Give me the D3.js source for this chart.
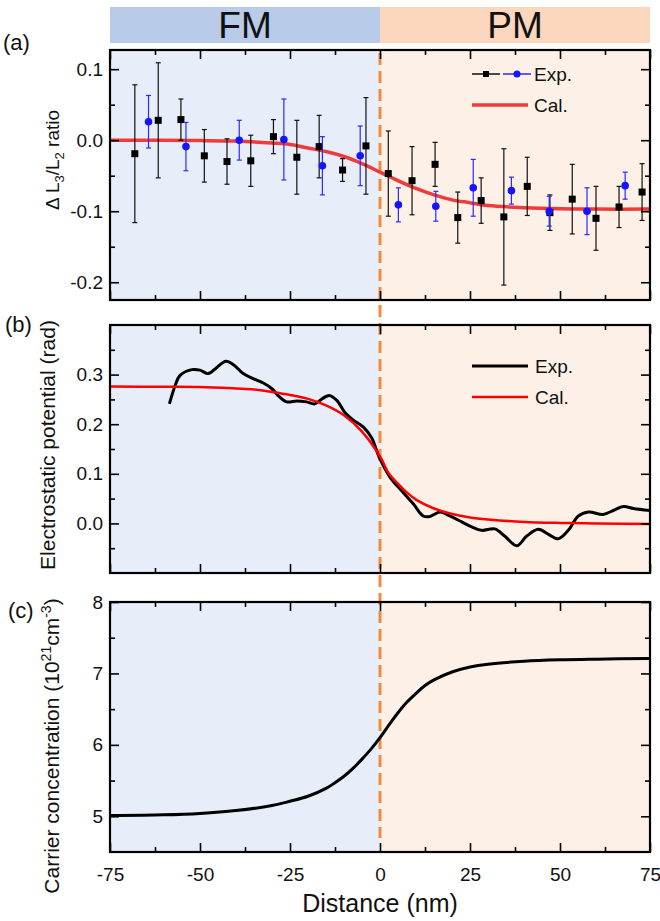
<!DOCTYPE html>
<html>
<head>
<meta charset="utf-8">
<script src="https://cdn.jsdelivr.net/npm/d3@7"></script>
<style>
    body { margin: 0; background: #fff; }
    svg { display: block; }
    text { font-family: "Liberation Sans", Arial, sans-serif; fill: #111; }
</style>
</head>
<body>
<svg id="chart"></svg>
<script>
// ---- data ----
const distTicks = [-75, -50, -25, 0, 25, 50, 75]
const distMinor = [-62.5, -37.5, -12.5, 12.5, 37.5, 62.5]
const regions = ['FM', 'PM']

// (a) L3/L2 ratio, black squares
const blackX = [-68.1, -61.6, -55.3, -48.8, -42.5, -35.9, -29.6, -23.1, -16.9, -10.4, -3.9, 2.3, 8.9, 15.3, 21.6, 28.1, 34.4, 40.9, 47.2, 53.4, 60.0, 66.4, 72.8]
const blackVal = [-0.019, 0.028, 0.029, -0.022, -0.030, -0.029, 0.005, -0.024, -0.009, -0.042, -0.008, -0.047, -0.057, -0.034, -0.109, -0.085, -0.108, -0.065, -0.102, -0.083, -0.110, -0.094, -0.073]
const blackErr = [0.097, 0.081, 0.029, 0.037, 0.032, 0.036, 0.024, 0.052, 0.044, 0.016, 0.068, 0.060, 0.048, 0.031, 0.036, 0.032, 0.096, 0.041, 0.025, 0.049, 0.045, 0.029, 0.040]
// (a) blue circles
const blueX = [-64.3, -53.9, -39.1, -26.7, -16.0, -5.5, 5.1, 15.5, 25.9, 36.5, 47.0, 57.5, 68.1]
const blueVal = [0.026, -0.009, 0.000, 0.001, -0.036, -0.022, -0.091, -0.093, -0.067, -0.071, -0.100, -0.100, -0.064]
const blueErr = [0.037, 0.034, 0.028, 0.057, 0.041, 0.042, 0.024, 0.021, 0.040, 0.019, 0.021, 0.033, 0.019]
// (a) calculated
const calAX = [-75, -50, -40, -30, -25, -20, -15, -10, -5, 0, 5, 10, 15, 20, 25, 30, 40, 50, 60, 75]
const calAY = [0.000, -0.0005, -0.0013, -0.004, -0.006, -0.011, -0.016, -0.023, -0.033, -0.045, -0.057, -0.068, -0.077, -0.084, -0.088, -0.092, -0.095, -0.0965, -0.097, -0.097]

// (b) electrostatic potential, experiment
const potX = [-58.5, -56.9, -55.6, -52.3, -50, -47.7, -45.4, -42.8, -40.7, -38, -35.2, -32.4, -30.1, -28.2, -25.9, -23.1, -20.4, -18.1, -15.9, -14.1, -12.0, -9.7, -7.4, -4.6, -2.3, -0.2, 2.8, 6.5, 9.3, 12.0, 13.9, 16.7, 19.4, 22.7, 25.5, 28.2, 31.9, 34.7, 38.0, 40.7, 44.0, 46.8, 49.5, 52.3, 55.1, 57.9, 62.0, 64.8, 67.6, 70.4, 75]
const potY = [0.241, 0.278, 0.298, 0.310, 0.309, 0.302, 0.314, 0.327, 0.320, 0.302, 0.292, 0.283, 0.272, 0.257, 0.245, 0.247, 0.245, 0.241, 0.252, 0.258, 0.248, 0.223, 0.208, 0.194, 0.172, 0.133, 0.093, 0.062, 0.039, 0.015, 0.014, 0.023, 0.015, 0.003, -0.007, -0.014, -0.011, -0.026, -0.045, -0.026, -0.012, -0.022, -0.031, -0.014, 0.015, 0.023, 0.018, 0.026, 0.034, 0.030, 0.026]
// (b) calculated
const calBX = [-75, -60, -50, -40, -35, -30, -25, -20, -15, -10, -5, 0, 2.5, 5, 7.5, 10, 15, 20, 25, 30, 40, 50, 60, 75]
const calBY = [0.276, 0.2755, 0.275, 0.272, 0.270, 0.265, 0.259, 0.251, 0.238, 0.218, 0.185, 0.135, 0.100, 0.080, 0.062, 0.048, 0.030, 0.019, 0.012, 0.008, 0.003, 0.001, 0.000, -0.001]

// (c) carrier concentration
const carrierX = [-75, -60, -50, -40, -30, -25, -20, -15, -12.5, -10, -7.5, -5, -2.5, 0, 2.5, 5, 7.5, 10, 12.5, 15, 20, 25, 30, 40, 50, 60, 75]
const carrierY = [5.01, 5.02, 5.04, 5.08, 5.15, 5.21, 5.28, 5.39, 5.47, 5.56, 5.67, 5.80, 5.94, 6.10, 6.28, 6.45, 6.60, 6.72, 6.83, 6.91, 7.02, 7.09, 7.13, 7.17, 7.19, 7.20, 7.21]

// ---- drawing ----
const width = 660
const height = 921
const fmBg = '#e7eef9'
const pmBg = '#fdf0e6'

const svg = d3.select('#chart').attr('width', width).attr('height', height)

const x = d3.scaleLinear().domain([-75, 75]).range([110, 650])

const bgLayer = svg.append('g')
const dashLayer = svg.append('g')
const dataLayer = svg.append('g')
const axisLayer = svg.append('g')

// banner
const bannerColor = d3.scaleOrdinal().domain(regions).range(['#b8cbe9', '#fcd6bd'])
const bannerX = d3.scaleOrdinal().domain(regions).range([[-75, 0], [0, 75]])
regions.forEach(function (r) {
    const [a, b] = bannerX(r)
    bgLayer.append('rect')
        .attr('x', x(a)).attr('y', 7)
        .attr('width', x(b) - x(a)).attr('height', 36)
        .attr('fill', bannerColor(r))
    bgLayer.append('text')
        .attr('x', (x(a) + x(b)) / 2).attr('y', 38)
        .attr('text-anchor', 'middle')
        .style('font-size', '37px')
        .text(r)
})

function makePanel(top, bottom, domain, major, minor, fmt, showX) {
    const y = d3.scaleLinear().domain(domain).range([bottom, top])

    bgLayer.append('rect')
        .attr('x', x(-75)).attr('y', top)
        .attr('width', x(0) - x(-75)).attr('height', bottom - top)
        .attr('fill', fmBg)
    bgLayer.append('rect')
        .attr('x', x(0)).attr('y', top)
        .attr('width', x(75) - x(0)).attr('height', bottom - top)
        .attr('fill', pmBg)

    const axes = [
        [d3.axisLeft(y).tickValues(major).tickSize(-9).tickPadding(7).tickFormat(fmt), 'translate(110,0)'],
        [d3.axisLeft(y).tickValues(minor).tickSize(-5).tickFormat(''), 'translate(110,0)'],
        [d3.axisRight(y).tickValues(major).tickSize(-9).tickFormat(''), 'translate(650,0)'],
        [d3.axisRight(y).tickValues(minor).tickSize(-5).tickFormat(''), 'translate(650,0)'],
        [d3.axisTop(x).tickValues(distTicks).tickSize(-9).tickFormat(''), 'translate(0,' + top + ')'],
        [d3.axisTop(x).tickValues(distMinor).tickSize(-5).tickFormat(''), 'translate(0,' + top + ')'],
        [d3.axisBottom(x).tickValues(distTicks).tickSize(-9).tickPadding(16)
            .tickFormat(showX ? (d) => String(d) : ''), 'translate(0,' + bottom + ')'],
        [d3.axisBottom(x).tickValues(distMinor).tickSize(-5).tickFormat(''), 'translate(0,' + bottom + ')'],
    ]
    axes.forEach(function ([ax, tr]) {
        const g = axisLayer.append('g')
            .attr('transform', tr)
            .call(ax)
            .attr('font-size', 19)
            .attr('font-family', '"Liberation Sans", Arial, sans-serif')
        g.select('.domain').remove()
        g.selectAll('line').attr('stroke', '#000').attr('stroke-width', 1.6)
    })

    axisLayer.append('rect')
        .attr('x', 110).attr('y', top)
        .attr('width', 540).attr('height', bottom - top)
        .attr('fill', 'none')
        .attr('stroke', '#000')
        .attr('stroke-width', 2.2)

    return y
}

const fmt1 = (d) => d.toFixed(1)
const yA = makePanel(50, 300, [-0.225, 0.127], [-0.2, -0.1, 0, 0.1], [-0.15, -0.05, 0.05], fmt1, false)
const yB = makePanel(325, 573, [-0.1, 0.4], [0, 0.1, 0.2, 0.3], [-0.05, 0.05, 0.15, 0.25, 0.35], fmt1, false)
const yC = makePanel(602, 852, [4.5, 8], [5, 6, 7, 8], [5.5, 6.5, 7.5], (d) => String(d), true)

// dashed boundary line
dashLayer.append('line')
    .attr('x1', x(0)).attr('x2', x(0))
    .attr('y1', 53).attr('y2', 838)
    .attr('stroke', '#f58a3c')
    .attr('stroke-width', 3)
    .attr('stroke-dasharray', '12,6')

// (a) calculated curve
const lineGen = (y) => d3.line()
    .x((d) => x(d[0]))
    .y((d) => y(d[1]))
    .curve(d3.curveCatmullRom.alpha(0.5))

dataLayer.append('path')
    .datum(d3.zip(calAX, calAY))
    .attr('d', lineGen(yA))
    .attr('fill', 'none')
    .attr('stroke', '#ef3b3b')
    .attr('stroke-width', 3.5)

function errorBars(xs, vals, errs, color) {
    const data = xs.map((d, i) => ({ x: d, v: vals[i], e: errs[i] }))
    const g = dataLayer.append('g').attr('stroke', color).attr('stroke-width', 1.2)
    g.selectAll('.bar').data(data).enter().append('line')
        .attr('x1', (d) => x(d.x)).attr('x2', (d) => x(d.x))
        .attr('y1', (d) => yA(d.v + d.e)).attr('y2', (d) => yA(d.v - d.e))
    g.selectAll('.capT').data(data).enter().append('line')
        .attr('x1', (d) => x(d.x) - 2.5).attr('x2', (d) => x(d.x) + 2.5)
        .attr('y1', (d) => yA(d.v + d.e)).attr('y2', (d) => yA(d.v + d.e))
    g.selectAll('.capB').data(data).enter().append('line')
        .attr('x1', (d) => x(d.x) - 2.5).attr('x2', (d) => x(d.x) + 2.5)
        .attr('y1', (d) => yA(d.v - d.e)).attr('y2', (d) => yA(d.v - d.e))
    return data
}

const blackData = errorBars(blackX, blackVal, blackErr, '#111')
dataLayer.selectAll('.sq').data(blackData).enter().append('rect')
    .attr('x', (d) => x(d.x) - 3.5)
    .attr('y', (d) => yA(d.v) - 3.5)
    .attr('width', 7).attr('height', 7)
    .attr('fill', '#000')

const blueData = errorBars(blueX, blueVal, blueErr, '#2a2aff')
dataLayer.selectAll('.dot').data(blueData).enter().append('circle')
    .attr('cx', (d) => x(d.x))
    .attr('cy', (d) => yA(d.v))
    .attr('r', 3.8)
    .attr('fill', '#1414ff')

// (b) curves
dataLayer.append('path')
    .datum(d3.zip(potX, potY))
    .attr('d', lineGen(yB))
    .attr('fill', 'none')
    .attr('stroke', '#000')
    .attr('stroke-width', 3)
dataLayer.append('path')
    .datum(d3.zip(calBX, calBY))
    .attr('d', lineGen(yB))
    .attr('fill', 'none')
    .attr('stroke', '#ff0000')
    .attr('stroke-width', 2.5)

// (c) curve
dataLayer.append('path')
    .datum(d3.zip(carrierX, carrierY))
    .attr('d', lineGen(yC))
    .attr('fill', 'none')
    .attr('stroke', '#000')
    .attr('stroke-width', 3)

// legends
const leg = axisLayer.append('g')
leg.append('line').attr('x1', 472).attr('x2', 500).attr('y1', 74).attr('y2', 74).attr('stroke', '#111').attr('stroke-width', 1.5)
leg.append('rect').attr('x', 483).attr('y', 71).attr('width', 6).attr('height', 6).attr('fill', '#000')
leg.append('line').attr('x1', 503).attr('x2', 531).attr('y1', 74).attr('y2', 74).attr('stroke', '#2a2aff').attr('stroke-width', 1.5)
leg.append('circle').attr('cx', 517).attr('cy', 74).attr('r', 3.5).attr('fill', '#1414ff')
leg.append('text').attr('x', 534).attr('y', 81).style('font-size', '19px').text('Exp.')
leg.append('line').attr('x1', 472).attr('x2', 528).attr('y1', 105).attr('y2', 105).attr('stroke', '#ef3b3b').attr('stroke-width', 3.5)
leg.append('text').attr('x', 534).attr('y', 112).style('font-size', '19px').text('Cal.')

leg.append('line').attr('x1', 472).attr('x2', 528).attr('y1', 366).attr('y2', 366).attr('stroke', '#000').attr('stroke-width', 3)
leg.append('text').attr('x', 535).attr('y', 373).style('font-size', '19px').text('Exp.')
leg.append('line').attr('x1', 472).attr('x2', 528).attr('y1', 397).attr('y2', 397).attr('stroke', '#ff0000').attr('stroke-width', 2.5)
leg.append('text').attr('x', 535).attr('y', 404).style('font-size', '19px').text('Cal.')

// panel letters
const letters = [['(a)', 3, 50], ['(b)', 5, 332], ['(c)', 8, 618]]
letters.forEach(function ([t, lx, ly]) {
    svg.append('text').attr('x', lx).attr('y', ly).style('font-size', '22px').text(t)
})

// axis titles
const titleA = svg.append('text')
    .attr('transform', 'translate(59,160) rotate(-90)')
    .attr('text-anchor', 'middle')
    .style('font-size', '19px')
titleA.append('tspan').text('\u0394 L')
titleA.append('tspan').attr('dy', 5).style('font-size', '13px').text('3')
titleA.append('tspan').attr('dy', -5).text('/L')
titleA.append('tspan').attr('dy', 5).style('font-size', '13px').text('2')
titleA.append('tspan').attr('dy', -5).text(' ratio')

svg.append('text')
    .attr('transform', 'translate(55,445) rotate(-90)')
    .attr('text-anchor', 'middle')
    .style('font-size', '21px')
    .text('Electrostatic potential (rad)')

const titleC = svg.append('text')
    .attr('transform', 'translate(59,746) rotate(-90)')
    .attr('text-anchor', 'middle')
    .style('font-size', '21px')
titleC.append('tspan').text('Carrier concentration (10')
titleC.append('tspan').attr('dy', -8).style('font-size', '14px').text('21')
titleC.append('tspan').attr('dy', 8).text('cm')
titleC.append('tspan').attr('dy', -8).style('font-size', '14px').text('-3')
titleC.append('tspan').attr('dy', 8).text(')')

svg.append('text')
    .attr('x', x(0)).attr('y', 912)
    .attr('text-anchor', 'middle')
    .style('font-size', '25px')
    .text('Distance (nm)')
</script>
</body>
</html>
